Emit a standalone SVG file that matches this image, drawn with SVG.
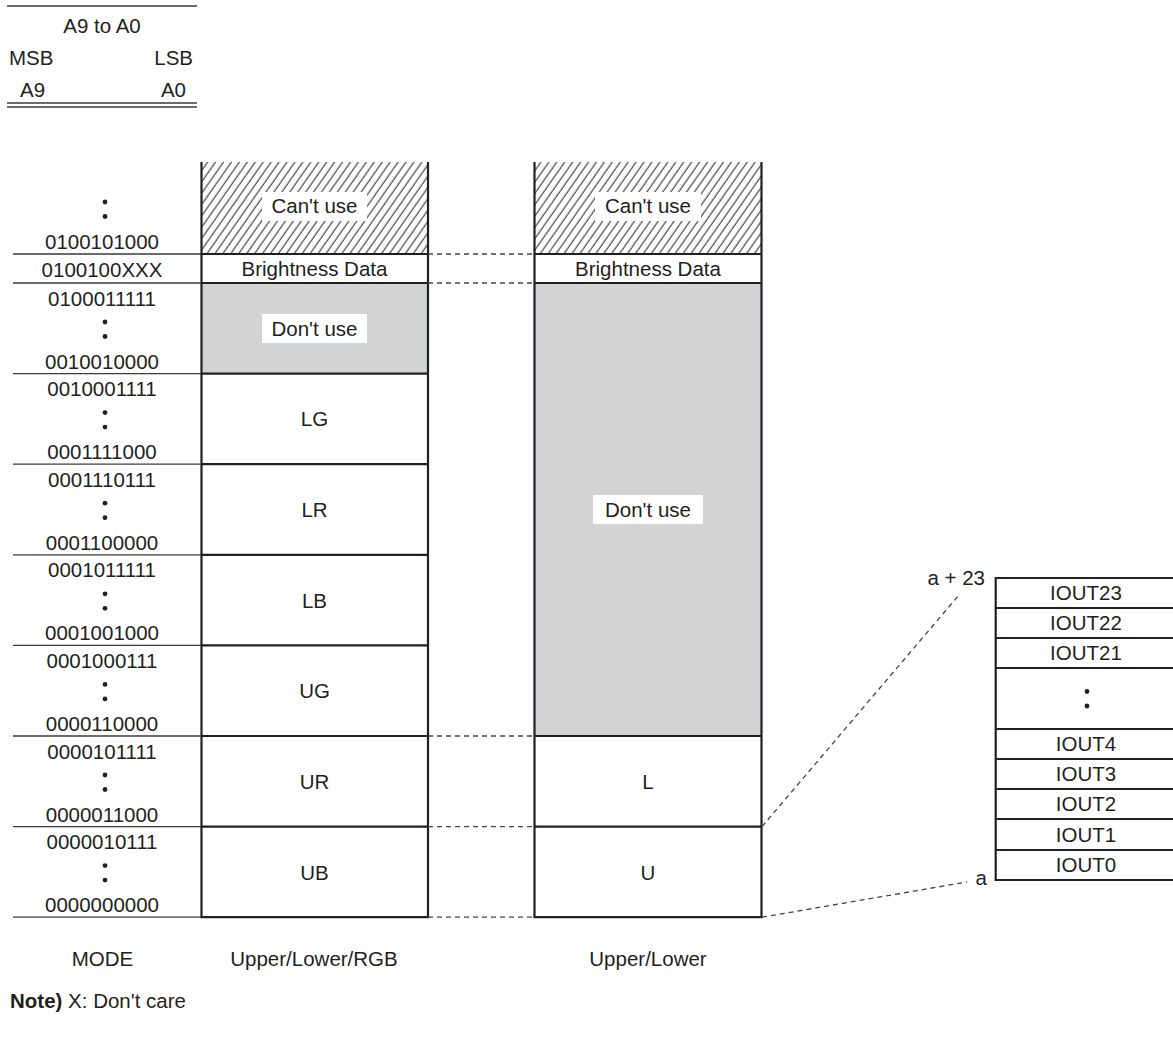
<svg xmlns="http://www.w3.org/2000/svg" width="1173" height="1041" viewBox="0 0 1173 1041">
<style>
text{font-family:"Liberation Sans",Arial,sans-serif;font-size:20.5px;fill:#231f20}
.c{text-anchor:middle}
.e{text-anchor:end}
.b{fill:none;stroke:#231f20;stroke-width:2.2}
.t{stroke:#3a3a3a;stroke-width:1.3;fill:none}
.d{stroke:#444;stroke-width:1.3;stroke-dasharray:5 4;fill:none}
.g{fill:#d1d3d4}
.w{fill:#fff}
.dot{fill:#231f20}
</style>
<defs>
<pattern id="hatch" patternUnits="userSpaceOnUse" width="6.5" height="10" patternTransform="rotate(35)">
<line x1="3" y1="-1" x2="3" y2="11" stroke="#231f20" stroke-width="1"/>
</pattern>
</defs>

<g id="header">
<line class="t" x1="7" y1="6" x2="197" y2="6"/>
<text class="c" x="102" y="33">A9 to A0</text>
<text x="9" y="65">MSB</text>
<text class="e" x="193" y="65">LSB</text>
<text x="20" y="97">A9</text>
<text class="e" x="186" y="97">A0</text>
<line class="t" x1="7" y1="103" x2="197" y2="103"/>
<line class="t" x1="7" y1="107" x2="197" y2="107"/>
</g>

<g id="address-labels">
<line class="t" x1="13" y1="254" x2="201" y2="254"/>
<line class="t" x1="13" y1="283" x2="201" y2="283"/>
<line class="t" x1="13" y1="373.6" x2="201" y2="373.6"/>
<line class="t" x1="13" y1="464.2" x2="201" y2="464.2"/>
<line class="t" x1="13" y1="554.8" x2="201" y2="554.8"/>
<line class="t" x1="13" y1="645.4" x2="201" y2="645.4"/>
<line class="t" x1="13" y1="736" x2="201" y2="736"/>
<line class="t" x1="13" y1="826.6" x2="201" y2="826.6"/>
<line class="t" x1="13" y1="917.2" x2="201" y2="917.2"/>
<circle class="dot" cx="105" cy="202" r="2.4"/><circle class="dot" cx="105" cy="216.5" r="2.4"/>
<text class="c" x="102" y="249">0100101000</text>
<text class="c" x="102" y="277">0100100XXX</text>
<text class="c" x="102" y="305.5">0100011111</text>
<circle class="dot" cx="105" cy="322" r="2.4"/><circle class="dot" cx="105" cy="336.5" r="2.4"/>
<text class="c" x="102" y="368.6">0010010000</text>
<text class="c" x="102" y="396.1">0010001111</text>
<circle class="dot" cx="105" cy="412.6" r="2.4"/><circle class="dot" cx="105" cy="427.1" r="2.4"/>
<text class="c" x="102" y="459.2">0001111000</text>
<text class="c" x="102" y="486.7">0001110111</text>
<circle class="dot" cx="105" cy="503.2" r="2.4"/><circle class="dot" cx="105" cy="517.7" r="2.4"/>
<text class="c" x="102" y="549.8">0001100000</text>
<text class="c" x="102" y="577.3">0001011111</text>
<circle class="dot" cx="105" cy="593.8" r="2.4"/><circle class="dot" cx="105" cy="608.3" r="2.4"/>
<text class="c" x="102" y="640.4">0001001000</text>
<text class="c" x="102" y="667.9">0001000111</text>
<circle class="dot" cx="105" cy="684.4" r="2.4"/><circle class="dot" cx="105" cy="698.9" r="2.4"/>
<text class="c" x="102" y="731">0000110000</text>
<text class="c" x="102" y="758.5">0000101111</text>
<circle class="dot" cx="105" cy="775" r="2.4"/><circle class="dot" cx="105" cy="789.5" r="2.4"/>
<text class="c" x="102" y="821.6">0000011000</text>
<text class="c" x="102" y="849.1">0000010111</text>
<circle class="dot" cx="105" cy="865.6" r="2.4"/><circle class="dot" cx="105" cy="880.1" r="2.4"/>
<text class="c" x="102" y="912.2">0000000000</text>
</g>

<g id="map-upper-lower-rgb">
<rect x="201.5" y="162" width="226.5" height="92" fill="url(#hatch)"/>
<rect class="w" x="262" y="192" width="105" height="29"/>
<text class="c" x="314.5" y="213">Can't use</text>
<rect class="g" x="201.5" y="283" width="226.5" height="90.6"/>
<rect class="w" x="262" y="314" width="105" height="29"/>
<text class="c" x="314.5" y="336">Don't use</text>
<text class="c" x="314.5" y="276">Brightness Data</text>
<text class="c" x="314.5" y="426">LG</text>
<text class="c" x="314.5" y="517">LR</text>
<text class="c" x="314.5" y="607.5">LB</text>
<text class="c" x="314.5" y="698">UG</text>
<text class="c" x="314.5" y="789">UR</text>
<text class="c" x="314.5" y="879.5">UB</text>
<path class="b" d="M201.5,162 V917.2 H428 V162 M201.5,254 H428 M201.5,283 H428 M201.5,373.6 H428 M201.5,464.2 H428 M201.5,554.8 H428 M201.5,645.4 H428 M201.5,736 H428 M201.5,826.6 H428"/>
</g>

<g id="map-upper-lower">
<rect x="534.5" y="162" width="227" height="92" fill="url(#hatch)"/>
<rect class="w" x="595" y="192" width="106" height="29"/>
<text class="c" x="648" y="213">Can't use</text>
<rect class="g" x="534.5" y="283" width="227" height="453"/>
<rect class="w" x="593" y="495" width="110" height="29"/>
<text class="c" x="648" y="517">Don't use</text>
<text class="c" x="648" y="276">Brightness Data</text>
<text class="c" x="648" y="789">L</text>
<text class="c" x="648" y="879.5">U</text>
<path class="b" d="M534.5,162 V917.2 H761.5 V162 M534.5,254 H761.5 M534.5,283 H761.5 M534.5,736 H761.5 M534.5,826.6 H761.5"/>
</g>

<g id="iout-block">
<text class="e" x="985" y="585">a + 23</text>
<text class="e" x="987" y="885">a</text>
<text class="c" x="1086" y="600">IOUT23</text>
<text class="c" x="1086" y="630">IOUT22</text>
<text class="c" x="1086" y="660">IOUT21</text>
<circle class="dot" cx="1087" cy="691.5" r="2.4"/><circle class="dot" cx="1087" cy="706" r="2.4"/>
<text class="c" x="1086" y="751">IOUT4</text>
<text class="c" x="1086" y="781">IOUT3</text>
<text class="c" x="1086" y="811">IOUT2</text>
<text class="c" x="1086" y="841.5">IOUT1</text>
<text class="c" x="1086" y="872">IOUT0</text>
<path class="b" d="M1175,578 H995.7 V880 H1175 M995.7,608 H1175 M995.7,638 H1175 M995.7,668 H1175 M995.7,729 H1175 M995.7,759 H1175 M995.7,789 H1175 M995.7,819 H1175 M995.7,850 H1175"/>
</g>

<g id="connectors">
<line class="d" x1="428" y1="254" x2="534.5" y2="254"/>
<line class="d" x1="428" y1="283" x2="534.5" y2="283"/>
<line class="d" x1="428" y1="736" x2="534.5" y2="736"/>
<line class="d" x1="428" y1="826.6" x2="534.5" y2="826.6"/>
<line class="d" x1="428" y1="917.2" x2="534.5" y2="917.2"/>
<line class="d" x1="762" y1="826.6" x2="959" y2="595"/>
<line class="d" x1="762" y1="917.2" x2="967" y2="882"/>
</g>

<g id="footer">
<text class="c" x="102.5" y="966">MODE</text>
<text class="c" x="314" y="966">Upper/Lower/RGB</text>
<text class="c" x="648" y="966">Upper/Lower</text>
<text x="10" y="1008"><tspan font-weight="bold">Note)</tspan> X: Don't care</text>
</g>
</svg>
